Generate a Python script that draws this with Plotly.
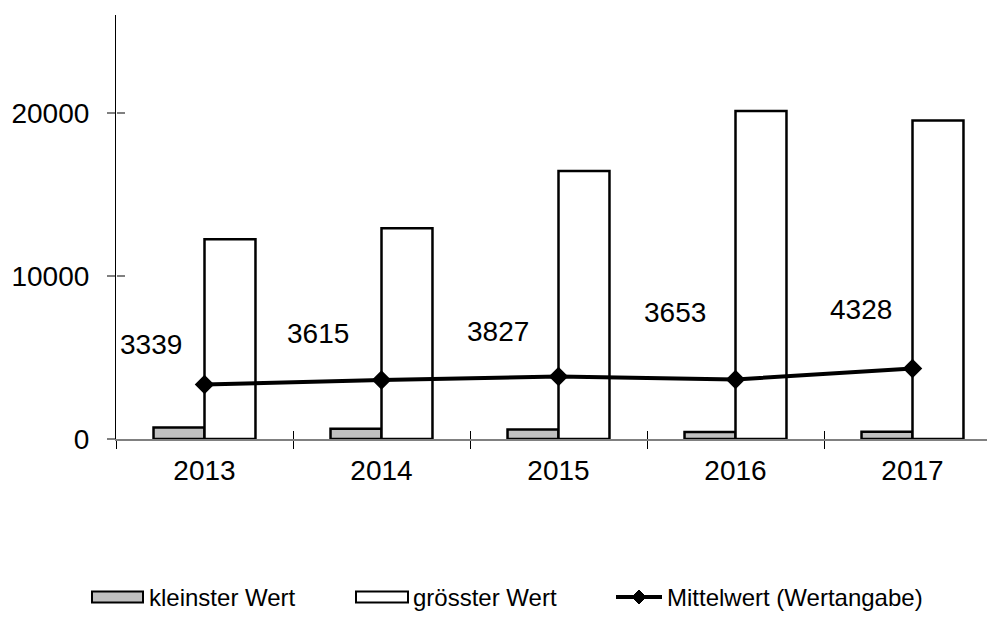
import plotly.graph_objects as go

years = ["2013", "2014", "2015", "2016", "2017"]
kleinster = [710, 630, 590, 430, 450]
groesster = [12250, 12920, 16440, 20120, 19530]
mittelwert = [3339, 3615, 3827, 3653, 4328]
series_names = ["kleinster Wert", "grösster Wert", "Mittelwert (Wertangabe)"]
y_ticks = [0, 10000, 20000]
y_ticktext = ["0", "10000", "20000"]

FONT = "Liberation Sans, Arial, sans-serif"
OFF = 8  # page body margin
W, H = 995 - OFF, 625 - 2 * OFF
L, T = 116 - OFF, 15 - OFF
B = H - (439 - OFF)
R = 0
pw, ph = W - L - R, H - T - B

def px_x(p):
    return (p - OFF - L) / pw

def px_y(p):
    return (H - B - (p - OFF)) / ph

fig = go.Figure()
fig.add_trace(go.Bar(x=years, y=kleinster, name=series_names[0],
                     marker=dict(color="#c0c0c0", line=dict(color="black", width=2.5)),
                     showlegend=False))
fig.add_trace(go.Bar(x=years, y=groesster, name=series_names[1],
                     marker=dict(color="white", line=dict(color="black", width=2.5)),
                     showlegend=False))
fig.add_trace(go.Scatter(x=years, y=mittelwert, name=series_names[2], mode="lines+markers",
                         line=dict(color="black", width=4),
                         marker=dict(symbol="diamond", size=15, color="black"),
                         showlegend=False))
# invisible helper trace for overlay axes (crossing ticks)
fig.add_trace(go.Scatter(x=years, y=mittelwert, xaxis="x2", yaxis="y2", mode="markers",
                         marker=dict(opacity=0), showlegend=False, hoverinfo="skip"))

# mean value labels
xshift = [-54, -64, -61, -61, -52]
yshift = [40, 47, 45, 67, 59]
for i, (yr, v) in enumerate(zip(years, mittelwert)):
    fig.add_annotation(xref="x", yref="y", x=i, y=v, text=str(v), showarrow=False,
                       xshift=xshift[i], yshift=yshift[i],
                       font=dict(family=FONT, size=28, color="black"))

# custom legend
leg_y = 597
sw_h = 11
fig.add_shape(type="rect", xref="paper", yref="paper", x0=px_x(92), x1=px_x(143),
              y0=px_y(leg_y + sw_h / 2), y1=px_y(leg_y - sw_h / 2),
              fillcolor="#c0c0c0", line=dict(color="black", width=2))
fig.add_shape(type="rect", xref="paper", yref="paper", x0=px_x(356), x1=px_x(408),
              y0=px_y(leg_y + sw_h / 2), y1=px_y(leg_y - sw_h / 2),
              fillcolor="white", line=dict(color="black", width=2))
fig.add_shape(type="line", xref="paper", yref="paper", x0=px_x(616), x1=px_x(662),
              y0=px_y(leg_y), y1=px_y(leg_y), line=dict(color="black", width=4))
fig.add_shape(type="path", xref="paper", yref="paper",
              path="M {a},{c} L {b},{d} L {e},{c} L {b},{f} Z".format(
                  a=px_x(632), b=px_x(639), e=px_x(646), c=px_y(leg_y), d=px_y(leg_y - 7), f=px_y(leg_y + 7)),
              fillcolor="black", line=dict(color="black", width=1))
for name, xp in zip(series_names, [147, 411, 665]):
    fig.add_annotation(xref="paper", yref="paper", x=px_x(xp), y=px_y(leg_y), text=name,
                       xanchor="left", yanchor="middle", showarrow=False,
                       font=dict(family=FONT, size=24, color="black"))

fig.update_layout(
    width=W, height=H,
    margin=dict(l=L, r=R, t=T, b=B, autoexpand=False),
    paper_bgcolor="white", plot_bgcolor="white",
    barmode="group", bargap=0.424, bargroupgap=0,
    font=dict(family=FONT, size=28, color="black"),
    xaxis=dict(type="category", range=[-0.5, 4.5 - 6 / 177], showgrid=False, zeroline=False,
               showline=True, linecolor="#808080", linewidth=1.5,
               ticks="outside", ticklen=8, tickwidth=1, tickcolor="black", tickson="boundaries",
               ticklabelstandoff=6, tickfont=dict(family=FONT, size=28, color="black")),
    xaxis2=dict(type="category", overlaying="x", matches="x", anchor="y", showgrid=False,
                zeroline=False, showline=False, ticks="inside", ticklen=8, tickwidth=1,
                tickcolor="black", tickson="boundaries", showticklabels=False),
    yaxis=dict(range=[0, 26000], tickmode="array", tickvals=y_ticks, ticktext=y_ticktext,
               showgrid=False, zeroline=False,
               showline=True, linecolor="black", linewidth=1.2,
               ticks="outside", ticklen=8, tickwidth=2, tickcolor="#808080",
               ticklabelstandoff=12, tickfont=dict(family=FONT, size=28, color="black")),
    yaxis2=dict(overlaying="y", matches="y", anchor="free", position=0, side="left",
                range=[0, 26000], tickmode="array", tickvals=y_ticks, showgrid=False, zeroline=False,
                showline=False, ticks="inside", ticklen=8, tickwidth=2, tickcolor="#808080",
                showticklabels=False),
)

fig.write_html("out.html")
